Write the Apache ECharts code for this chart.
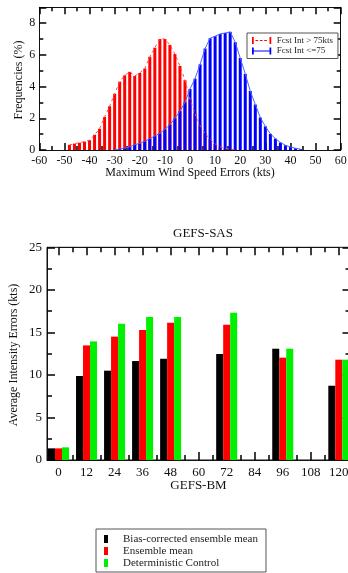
<!DOCTYPE html>
<html><head><meta charset="utf-8">
<script src="https://cdn.jsdelivr.net/npm/echarts/dist/echarts.min.js"></script>
<style>html,body{margin:0;padding:0;background:#fff}#c{width:348px;height:573px}</style>
</head><body><div id="c"></div><script>
// ---- Top chart: error histograms ----
const errBinsHigh = [-48,-46,-44,-42,-40,-38,-36,-34,-32,-30,-28,-26,-24,-22,-20,-18,-16,-14,-12,-10,-8,-6,-4,-2,0,2,4,6,8,10,12,14,16,18];
const freqHigh = [0.32,0.40,0.46,0.53,0.62,0.96,1.34,2.08,2.76,3.55,4.31,4.71,4.93,4.67,4.86,5.14,5.88,6.45,7.0,7.0,6.63,6.05,5.3,4.4,3.2,2.3,1.55,1.05,0.68,0.38,0.2,0.1,0.05,0.02];
const errBinsLow = [-30,-28,-26,-24,-22,-20,-18,-16,-14,-12,-10,-8,-6,-4,-2,0,2,4,6,8,10,12,14,16,18,20,22,24,26,28,30,32,34,36,38,40,42,44];
const freqLow = [0.02,0.06,0.12,0.2,0.33,0.42,0.55,0.72,0.88,1.05,1.3,1.6,2.0,2.45,3.0,3.85,4.5,5.4,6.4,7.05,7.18,7.32,7.38,7.45,6.8,5.8,4.8,3.72,2.87,2.05,1.49,1.02,0.72,0.47,0.3,0.19,0.11,0.05];
const nameHigh = 'Fcst Int > 75kts';
const nameLow = 'Fcst Int <=75';
// ---- Bottom chart: average intensity errors ----
const leadHours = [0,12,24,36,48,60,72,84,96,108,120];
const biasCorrected = [1.37,9.87,10.5,11.63,11.9,null,12.46,null,13.08,null,8.73];
const ensembleMean = [1.37,13.47,14.5,15.28,16.14,null,15.9,null,12.03,null,11.79];
const deterministic = [1.49,13.94,16.0,16.8,16.8,null,17.3,null,13.08,null,11.79];
const barNames = ['Bias-corrected ensemble mean','Ensemble mean','Deterministic Control'];

const FONT = "'Liberation Serif','DejaVu Serif',serif";
const AX = '#111';
const TK = '#000';
const pairs = (xs, ys) => xs.map((x,i)=>[x, ys[i]]).filter(p => p[1] !== null);

const chart = echarts.init(document.getElementById('c'));

const mkLine = () => ({show:true, onZero:false, lineStyle:{color:AX, width:1}});
const tick = len => ({show:true, inside:true, length:len, lineStyle:{color:TK, width:1.5}});
const minor = len => ({show:true, splitNumber:2, length:len, lineStyle:{color:TK, width:1.5}});
const txt = (text, x, y, size, rot) => ({type:'text', x:x, y:y, rotation:rot || 0, silent:true,
  style:{text:text, fontFamily:FONT, fontSize:size, fill:'#111', align:'center', verticalAlign:'middle'}});

chart.setOption({
  animation:false,
  title:{text:'GEFS-SAS', left:198, top:222, textAlign:'center',
    textStyle:{fontFamily:FONT, fontSize:13, fontWeight:'normal', color:'#111'}},
  graphic:[
    txt('Maximum Wind Speed Errors (kts)', 190, 173, 12),
    txt('Frequencies (%)', 18.5, 80, 12, Math.PI/2),
    txt('Average Intensity Errors (kts)', 14, 355, 12, Math.PI/2),
    txt('GEFS-BM', 198.5, 486, 13)
  ],
  grid:[
    {left:39.3, top:7.3, width:301.4, height:142.7, outerBoundsMode:'none', containLabel:false},
    {left:47, top:247.3, width:303.5, height:212.7, outerBoundsMode:'none', containLabel:false,
     show:true, borderColor:AX, borderWidth:1, backgroundColor:'transparent'},
    {left:58.5, top:247.3, width:280.3, height:212.7, outerBoundsMode:'none', containLabel:false}
  ],
  xAxis:[
    {gridIndex:0, type:'value', position:'bottom', min:-60, max:60, interval:10,
     axisLine:mkLine(), splitLine:{show:false}, axisTick:tick(7), minorTick:minor(4),
     axisLabel:{fontFamily:FONT, fontSize:12, color:'#111', margin:5}},
    {gridIndex:0, type:'value', position:'top', min:-60, max:60, interval:10,
     axisLine:mkLine(), splitLine:{show:false}, axisTick:tick(7), minorTick:minor(4),
     axisLabel:{show:false}},
    {gridIndex:1, type:'value', position:'bottom', min:-5, max:125,
     axisLine:mkLine(), axisTick:{show:false}, axisLabel:{show:false}, splitLine:{show:false}},
    {gridIndex:2, type:'value', position:'bottom', min:0, max:120, interval:12,
     axisLine:mkLine(), splitLine:{show:false}, axisTick:tick(8), minorTick:minor(5),
     axisLabel:{fontFamily:FONT, fontSize:13, color:'#111', margin:6}},
    {gridIndex:2, type:'value', position:'top', min:0, max:120, interval:12,
     axisLine:mkLine(), splitLine:{show:false}, axisTick:tick(8), minorTick:minor(5),
     axisLabel:{show:false}}
  ],
  yAxis:[
    {gridIndex:0, type:'value', position:'left', min:0, max:9, interval:2,
     axisLine:mkLine(), splitLine:{show:false}, axisTick:tick(7), minorTick:minor(4),
     axisLabel:{fontFamily:FONT, fontSize:12, color:'#111', margin:4, showMaxLabel:false,
       formatter:v => (v % 2 === 0 ? String(v) : '')}},
    {gridIndex:0, type:'value', position:'right', min:0, max:9, interval:2,
     axisLine:mkLine(), splitLine:{show:false}, axisTick:tick(7), minorTick:minor(4),
     axisLabel:{show:false}},
    {gridIndex:1, type:'value', position:'left', min:0, max:25, interval:5,
     axisLine:mkLine(), splitLine:{show:false}, axisTick:tick(8), minorTick:minor(5),
     axisLabel:{fontFamily:FONT, fontSize:13, color:'#111', margin:5}},
    {gridIndex:1, type:'value', position:'right', min:0, max:25, interval:5,
     axisLine:mkLine(), splitLine:{show:false}, axisTick:tick(8), minorTick:minor(5),
     axisLabel:{show:false}},
    {gridIndex:2, type:'value', min:0, max:25, show:false}
  ],
  legend:[
    {left:247, top:33, orient:'vertical', padding:[3,5,3,5], itemGap:1.5,
     itemWidth:20, itemHeight:7, borderColor:'#555', borderWidth:1, backgroundColor:'#fff',
     textStyle:{fontFamily:FONT, fontSize:9, color:'#222'},
     data:[
       {name:nameHigh, icon:'path://M0 0H2V8H0Z M4 3.4H7V4.6H4Z M9 3.4H12V4.6H9Z M14 3.4H17V4.6H14Z M20 0H22V8H20Z'},
       {name:nameLow, icon:'path://M0 0H2V8H0Z M2 3.5H20V4.5H2Z M20 0H22V8H20Z'}
     ]},
    {left:96, top:529, orient:'vertical', padding:[4,8,3,8], itemGap:0,
     itemWidth:4, itemHeight:8, borderColor:'#555', borderWidth:1, backgroundColor:'#fff',
     textStyle:{fontFamily:FONT, fontSize:11, color:'#222', padding:[0,0,0,10], lineHeight:12},
     data:barNames.map(n => ({name:n, icon:'rect'}))}
  ],
  series:[
    {name:nameHigh, type:'bar', xAxisIndex:0, yAxisIndex:0, barWidth:3, barGap:'-100%',
     itemStyle:{color:'#ff0000'}, data:pairs(errBinsHigh, freqHigh)},
    {name:nameLow, type:'bar', xAxisIndex:0, yAxisIndex:0, barWidth:3, barGap:'-100%',
     itemStyle:{color:'#0000ff'}, data:pairs(errBinsLow, freqLow)},
    {name:nameHigh + ' curve', type:'line', xAxisIndex:0, yAxisIndex:0, showSymbol:false, z:5,
     lineStyle:{color:'#ff4a4a', width:1, type:[3,3]}, data:pairs(errBinsHigh, freqHigh)},
    {name:nameLow + ' curve', type:'line', xAxisIndex:0, yAxisIndex:0, showSymbol:false, z:6,
     lineStyle:{color:'#4a66ff', width:1}, data:pairs(errBinsLow, freqLow)},
    {name:barNames[0], type:'bar', xAxisIndex:3, yAxisIndex:4, barWidth:7, barGap:'0%',
     itemStyle:{color:'#000000'}, data:pairs(leadHours, biasCorrected)},
    {name:barNames[1], type:'bar', xAxisIndex:3, yAxisIndex:4, barWidth:7, barGap:'0%',
     itemStyle:{color:'#ff0000'}, data:pairs(leadHours, ensembleMean)},
    {name:barNames[2], type:'bar', xAxisIndex:3, yAxisIndex:4, barWidth:7, barGap:'0%',
     itemStyle:{color:'#00f000'}, data:pairs(leadHours, deterministic)}
  ]
});
</script></body></html>
